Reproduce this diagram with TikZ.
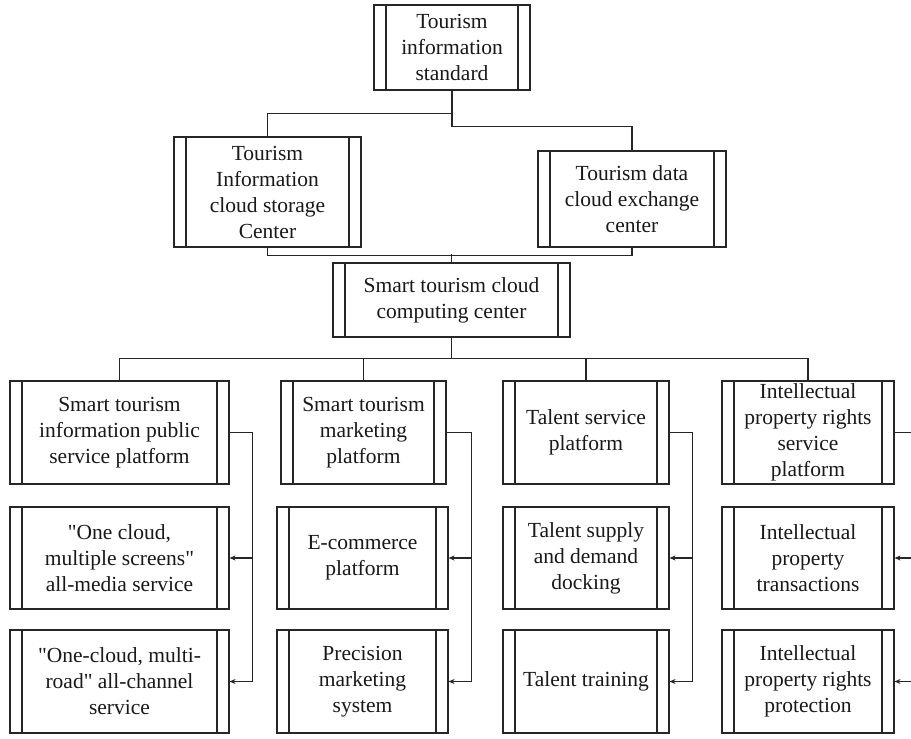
\documentclass[tikz,border=0pt]{standalone}
\usepackage{fontspec}
\setmainfont{Liberation Serif}[Ligatures=TeXOff]
\usetikzlibrary{arrows.meta}

\tikzset{
  ink/.style={draw=black!85, line width=1.1pt},
  box/.style={ink, rectangle, inner sep=0pt, align=center,
    font=\fontsize{21.5}{26}\selectfont, text=black!90,
    path picture={
      \draw[black!85, line width=1.1pt]
        ([xshift=12pt]path picture bounding box.north west) --
        ([xshift=12pt]path picture bounding box.south west)
        ([xshift=-12pt]path picture bounding box.north east) --
        ([xshift=-12pt]path picture bounding box.south east);}},
  conn/.style={ink, line cap=rect},
  feed/.style={ink, -{Stealth[length=6pt,width=5pt]}},
}

\begin{document}
\begin{tikzpicture}[x=1pt, y=-1pt]
  \path[use as bounding box, fill=white] (0,0) rectangle (911,739);
  \clip (0,0) rectangle (911,739);

  % upper levels
  \node[box, minimum width=156pt, minimum height=85pt] (std) at (452,47.5)
    {Tourism\\information\\standard};
  \node[box, minimum width=187pt, minimum height=110pt] (store) at (267.5,192)
    {Tourism\\Information\\cloud storage\\Center};
  \node[box, minimum width=188pt, minimum height=96pt] (exch) at (632,199)
    {Tourism data\\cloud exchange\\center};
  \node[box, minimum width=237pt, minimum height=74pt] (cc) at (451.5,300)
    {Smart tourism cloud\\computing center};

  % platforms (first row) and their services
  \node[box, minimum width=219pt, minimum height=103pt] (p1) at (119.5,432.5)
    {Smart tourism\\information public\\service platform};
  \node[box, minimum width=219pt, minimum height=102pt] (p1b) at (119.5,558)
    {"One cloud,\\multiple screens"\\all-media service};
  \node[box, minimum width=219pt, minimum height=103pt] (p1c) at (119.5,681.5)
    {"One-cloud, multi-\\road" all-channel\\service};

  \node[box, minimum width=165pt, minimum height=103pt] (p2) at (363.5,432.5)
    {Smart tourism\\marketing\\platform};
  \node[box, minimum width=171pt, minimum height=102pt] (p2b) at (362.5,558)
    {E-commerce\\platform};
  \node[box, minimum width=171pt, minimum height=103pt] (p2c) at (362.5,681.5)
    {Precision\\marketing\\system};

  \node[box, minimum width=166pt, minimum height=103pt] (p3) at (586,432.5)
    {Talent service\\platform};
  \node[box, minimum width=166pt, minimum height=102pt] (p3b) at (586,558)
    {Talent supply\\and demand\\docking};
  \node[box, minimum width=166pt, minimum height=103pt] (p3c) at (586,681.5)
    {Talent training};

  \node[box, minimum width=172pt, minimum height=103pt] (p4) at (808,432.5)
    {Intellectual\\property rights\\service\\platform};
  \node[box, minimum width=172pt, minimum height=102pt] (p4b) at (808,558)
    {Intellectual\\property\\transactions};
  \node[box, minimum width=172pt, minimum height=103pt] (p4c) at (808,681.5)
    {Intellectual\\property rights\\protection};

  % tree connectors
  \draw[conn] (std.south) -- ++(0,23) -| (store.north);
  \draw[conn] (std.south) -- ++(0,36) -| (exch.north);
  \draw[conn] (store.south) -- ++(0,8) -| (exch.south);
  \draw[conn] (cc.north) -- ++(0,-8);
  \draw[conn] (cc.south) -- ++(0,21) coordinate (hub);
  \draw[conn] (p1.north) |- (hub) -| (p4.north);
  \draw[conn] (p2.north |- hub) -- (p2.north);
  \draw[conn] (p3.north |- hub) -- (p3.north);

  % side feeders
  \draw[conn] (p1.east) -- ++(23,0) coordinate (t1);
  \draw[feed] (t1) |- (p1b.east);
  \draw[feed] (t1) |- (p1c.east);

  \draw[conn] (p2.east) -- ++(25,0) coordinate (t2);
  \draw[feed] (t2) |- (p2b.east);
  \draw[feed] (t2) |- (p2c.east);

  \draw[conn] (p3.east) -- ++(23,0) coordinate (t3);
  \draw[feed] (t3) |- (p3b.east);
  \draw[feed] (t3) |- (p3c.east);

  \draw[conn] (p4.east) -- ++(23,0) coordinate (t4);
  \draw[feed] (t4) |- (p4b.east);
  \draw[feed] (t4) |- (p4c.east);
\end{tikzpicture}
\end{document}
